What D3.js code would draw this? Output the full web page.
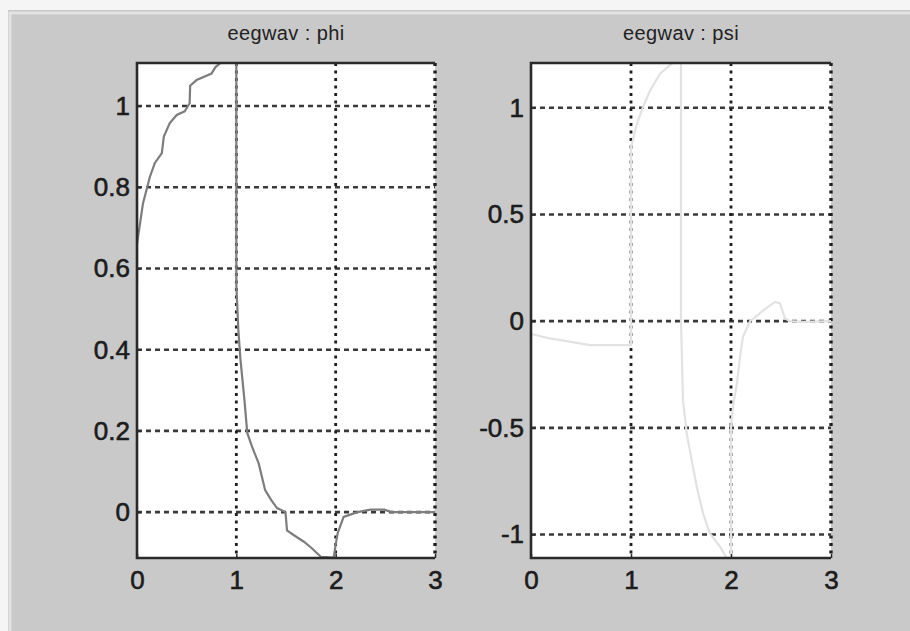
<!DOCTYPE html>
<html>
<head>
<meta charset="utf-8">
<script src="https://cdn.jsdelivr.net/npm/d3@7"></script>
<style>
  html, body { margin: 0; padding: 0; background: #f5f5f5; }
  svg { display: block; }
  text { font-family: "Liberation Sans", Arial, sans-serif; }
</style>
</head>
<body>
<svg width="910" height="631"></svg>
<script>
(function(){
    'use strict';

    // data
    const titles = ['eegwav : phi', 'eegwav : psi'];
    const xTicks = [0, 1, 2, 3];
    const phiTicks = [0, 0.2, 0.4, 0.6, 0.8, 1];
    const psiTicks = [-1, -0.5, 0, 0.5, 1];

    const phiX = [0, 0, 0.06, 0.13, 0.18, 0.25, 0.27, 0.33, 0.40, 0.48, 0.53, 0.535, 0.60, 0.75, 0.79, 0.86, 0.92, 1.0,
                  1.0, 1.02, 1.04, 1.08, 1.11, 1.16, 1.225, 1.29, 1.35, 1.41, 1.495, 1.51, 1.58, 1.68, 1.76, 1.85, 1.98,
                  2.0, 2.02, 2.08, 2.22, 2.35, 2.49, 2.56, 3.0];
    const phiY = [0.56, 0.66, 0.76, 0.826, 0.86, 0.884, 0.925, 0.958, 0.978, 0.987, 1.007, 1.05, 1.064, 1.08, 1.096, 1.11, 1.13, 1.14,
                  0.56, 0.45, 0.38, 0.28, 0.195, 0.16, 0.12, 0.054, 0.03, 0.01, 0.0, -0.045, -0.057, -0.073, -0.089, -0.11, -0.112,
                  -0.08, -0.052, -0.012, 0.0, 0.006, 0.006, 0.0, 0.0];

    const psiX = [0, 0.19, 0.59, 1.0, 1.0, 1.02, 1.06, 1.12, 1.19, 1.29, 1.39, 1.44, 1.47, 1.5,
                  1.5, 1.52, 1.557, 1.657, 1.72, 1.79, 1.89, 1.957, 1.98, 2.0,
                  2.0, 2.02, 2.06, 2.09, 2.12, 2.19, 2.22, 2.32, 2.44, 2.49, 2.54, 2.59, 2.72, 3.0];
    const psiY = [-0.06, -0.081, -0.112, -0.112, 0.816, 0.85, 0.926, 1.004, 1.08, 1.16, 1.2, 1.22, 1.25, 1.25,
                  0.0, -0.37, -0.526, -0.776, -0.9, -0.995, -1.057, -1.11, -1.15, -1.15,
                  -0.495, -0.4, -0.29, -0.167, -0.073, 0.0, 0.01, 0.05, 0.09, 0.083, 0.013, 0.0, -0.003, 0.0];

    const svg = d3.select('svg');

    // figure window background
    svg.append('rect').attr('x', 8).attr('y', 10).attr('width', 902).attr('height', 621).attr('fill', '#c9c9c9');
    svg.append('path').attr('d', 'M10,631 V13 H910').attr('fill', 'none')
        .attr('stroke', '#e2e2e2').attr('stroke-width', 3);

    const panels = [
        { id: 'phi', title: titles[0], xs: phiX, ys: phiY, ticks: phiTicks, color: '#7d7d7d',
          left: 137, right: 435, top: 63, bottom: 558, ydom: [-0.113, 1.106] },
        { id: 'psi', title: titles[1], xs: psiX, ys: psiY, ticks: psiTicks, color: '#e2e2e2',
          left: 531, right: 831, top: 63, bottom: 558, ydom: [-1.11, 1.21] }
    ];

    panels.forEach(p => {
        const w = p.right - p.left, h = p.bottom - p.top;
        const x = d3.scaleLinear().domain([0, 3]).range([0, w]);
        const y = d3.scaleLinear().domain(p.ydom).range([h, 0]);
        const g = svg.append('g').attr('transform', `translate(${p.left},${p.top})`);

        g.append('rect').attr('width', w).attr('height', h).attr('fill', '#fff');

        g.append('clipPath').attr('id', 'clip-' + p.id)
            .append('rect').attr('width', w).attr('height', h);

        // grid
        g.selectAll('.hgrid').data(p.ticks).join('line')
            .attr('class', 'hgrid')
            .attr('x1', 0).attr('x2', w)
            .attr('y1', d => y(d)).attr('y2', d => y(d))
            .attr('stroke', '#3a3a3a').attr('stroke-width', 2.6)
            .attr('stroke-dasharray', '5,4');
        g.selectAll('.vgrid').data(xTicks.slice(1)).join('line')
            .attr('class', 'vgrid')
            .attr('x1', d => x(d)).attr('x2', d => x(d))
            .attr('y1', 0).attr('y2', h)
            .attr('stroke', '#1e1e1e').attr('stroke-width', d => d === 3 ? 3.4 : 2.8)
            .attr('stroke-dasharray', '3,4.5');

        // curve
        const pts = p.xs.map((v, i) => [v, p.ys[i]]);
        g.append('path')
            .datum(pts)
            .attr('clip-path', `url(#clip-${p.id})`)
            .attr('fill', 'none')
            .attr('stroke', p.color)
            .attr('stroke-width', 2.2)
            .attr('d', d3.line().x(d => x(d[0])).y(d => y(d[1])));

        // box (right edge is left to the dotted grid)
        g.append('path').attr('d', `M${w},0 H0 V${h} H${w}`)
            .attr('fill', 'none').attr('stroke', '#2a2a2a').attr('stroke-width', 2.6);

        // axes
        const yAxis = d3.axisLeft(y).tickValues(p.ticks).tickSizeInner(-4).tickSizeOuter(0)
            .tickPadding(7).tickFormat(d => String(d));
        const xAxis = d3.axisBottom(x).tickValues(xTicks).tickSizeInner(-4).tickSizeOuter(0)
            .tickPadding(13).tickFormat(d => String(d));

        const ya = g.append('g').call(yAxis);
        const xa = g.append('g').attr('transform', `translate(0,${h})`).call(xAxis);
        [ya, xa].forEach(a => {
            a.select('.domain').remove();
            a.selectAll('line').attr('stroke', '#2a2a2a').attr('stroke-width', 1.5);
            a.selectAll('text').attr('fill', '#1c1c1c')
                .attr('stroke', '#1c1c1c').attr('stroke-width', 0.6)
                .style('font-size', '26px')
                .style('font-family', '"Liberation Sans", Arial, sans-serif');
        });

        svg.append('text')
            .attr('x', p.left + w / 2).attr('y', 40)
            .attr('text-anchor', 'middle')
            .attr('fill', '#222')
            .style('font-size', '20px')
            .style('letter-spacing', '0.4px')
            .text(p.title);
    });
})();
</script>
</body>
</html>
